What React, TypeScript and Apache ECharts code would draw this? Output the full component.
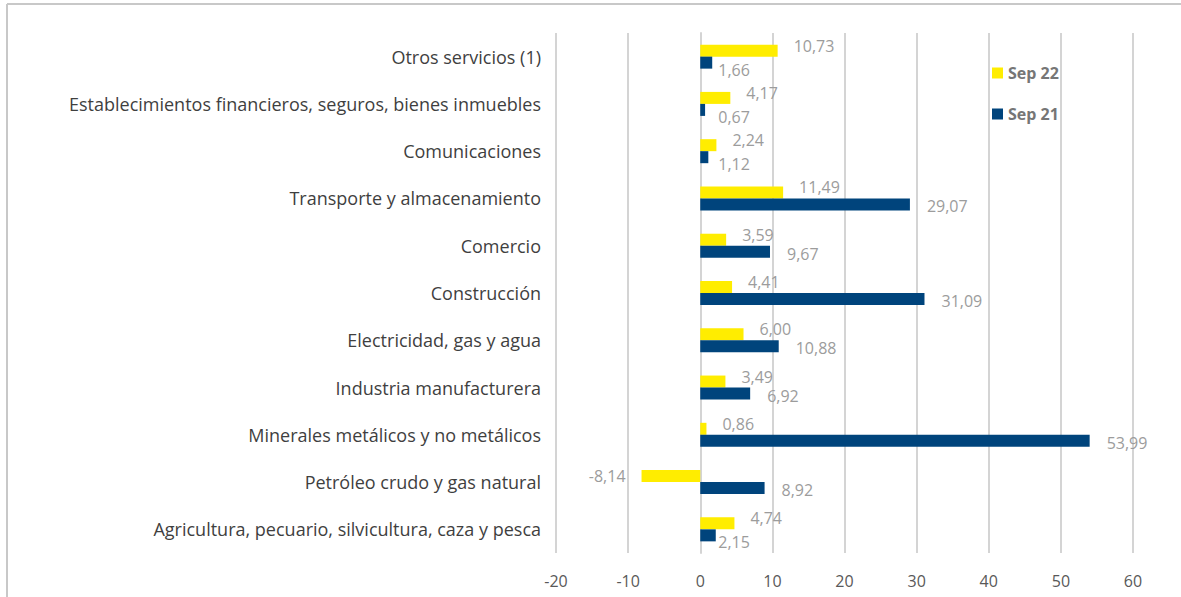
import React, { useEffect, useRef } from "react";
import * as echarts from "echarts";

const categories = [
  "Otros servicios (1)",
  "Establecimientos financieros, seguros, bienes inmuebles",
  "Comunicaciones",
  "Transporte y almacenamiento",
  "Comercio",
  "Construcción",
  "Electricidad, gas y agua",
  "Industria manufacturera",
  "Minerales metálicos y no metálicos",
  "Petróleo crudo y gas natural",
  "Agricultura, pecuario, silvicultura, caza y pesca",
];
const sep22 = [10.73, 4.17, 2.24, 11.49, 3.59, 4.41, 6.0, 3.49, 0.86, -8.14, 4.74];
const sep21 = [1.66, 0.67, 1.12, 29.07, 9.67, 31.09, 10.88, 6.92, 53.99, 8.92, 2.15];
const xTicks = [-20, -10, 0, 10, 20, 30, 40, 50, 60];

const fmt = (v: number) => v.toFixed(2).replace(".", ",");
const LABEL_COLOR = "#9C9C9C";
const FONT = "'Open Sans', 'Noto Sans', sans-serif";

export default function App() {
  const ref = useRef<HTMLDivElement>(null);
  useEffect(() => {
    if (!ref.current) return;
    const chart = echarts.init(ref.current, null, { renderer: "svg" });
    const baseLabel = {
      show: true,
      color: LABEL_COLOR,
      fontSize: 16,
      fontFamily: FONT,
      formatter: (p: any) => fmt(p.value),
    };
    const yellowData = sep22.map((v) => ({
      value: v,
      label:
        v < 0
          ? { position: "left", distance: 16, offset: [0, 0] }
          : { position: "right", distance: 16, offset: [0, -5] },
    }));
    const navyData = sep21.map((v) => ({
      value: v,
      label:
        v < 3
          ? { position: [18, 13], align: "left", verticalAlign: "middle" }
          : { position: "right", distance: 17, offset: [0, 2] },
    }));
    chart.setOption({
      animation: false,
      backgroundColor: "#ffffff",
      textStyle: { fontFamily: FONT },
      grid: {
        left: 556,
        right: 48,
        top: 33,
        bottom: 44,
        containLabel: false,
        outerBoundsMode: "none",
      },
      legend: {
        orient: "vertical",
        left: 987,
        top: 60,
        itemGap: 25,
        itemWidth: 11,
        itemHeight: 11,
        icon: "rect",
        data: ["Sep 22", "Sep 21"],
        textStyle: { color: "#767676", fontSize: 16, fontWeight: "bold", fontFamily: FONT },
      },
      xAxis: {
        type: "value",
        min: xTicks[0],
        max: xTicks[xTicks.length - 1],
        interval: 10,
        axisLine: { show: false },
        axisTick: { show: false },
        splitLine: { show: true, lineStyle: { color: "#D4D4D4", width: 2 } },
        axisLabel: { color: "#595959", fontSize: 16, margin: 20, fontFamily: FONT },
      },
      yAxis: {
        type: "category",
        data: categories,
        inverse: true,
        axisLine: { show: true, onZero: true, lineStyle: { color: "#D4D4D4", width: 2 } },
        axisTick: { show: false },
        axisLabel: { color: "#3F3F3F", fontSize: 18, margin: 15, fontFamily: FONT },
      },
      series: [
        {
          name: "Sep 22",
          type: "bar",
          data: yellowData,
          barWidth: 12,
          barGap: "0%",
          itemStyle: { color: "#FFED00" },
          label: baseLabel,
        },
        {
          name: "Sep 21",
          type: "bar",
          data: navyData,
          barWidth: 12,
          barGap: "0%",
          itemStyle: { color: "#00447C" },
          label: baseLabel,
        },
      ],
      graphic: [
        { type: "line", shape: { x1: 7, y1: 4, x2: 1181, y2: 4 }, style: { stroke: "#C8C8C8", lineWidth: 2 } },
        { type: "line", shape: { x1: 7, y1: 4, x2: 7, y2: 597 }, style: { stroke: "#C8C8C8", lineWidth: 2 } },
      ],
    });
    return () => chart.dispose();
  }, []);
  return (
    <div
      ref={ref}
      style={{ position: "fixed", left: 0, top: 0, width: 1181, height: 597 }}
    />
  );
}
